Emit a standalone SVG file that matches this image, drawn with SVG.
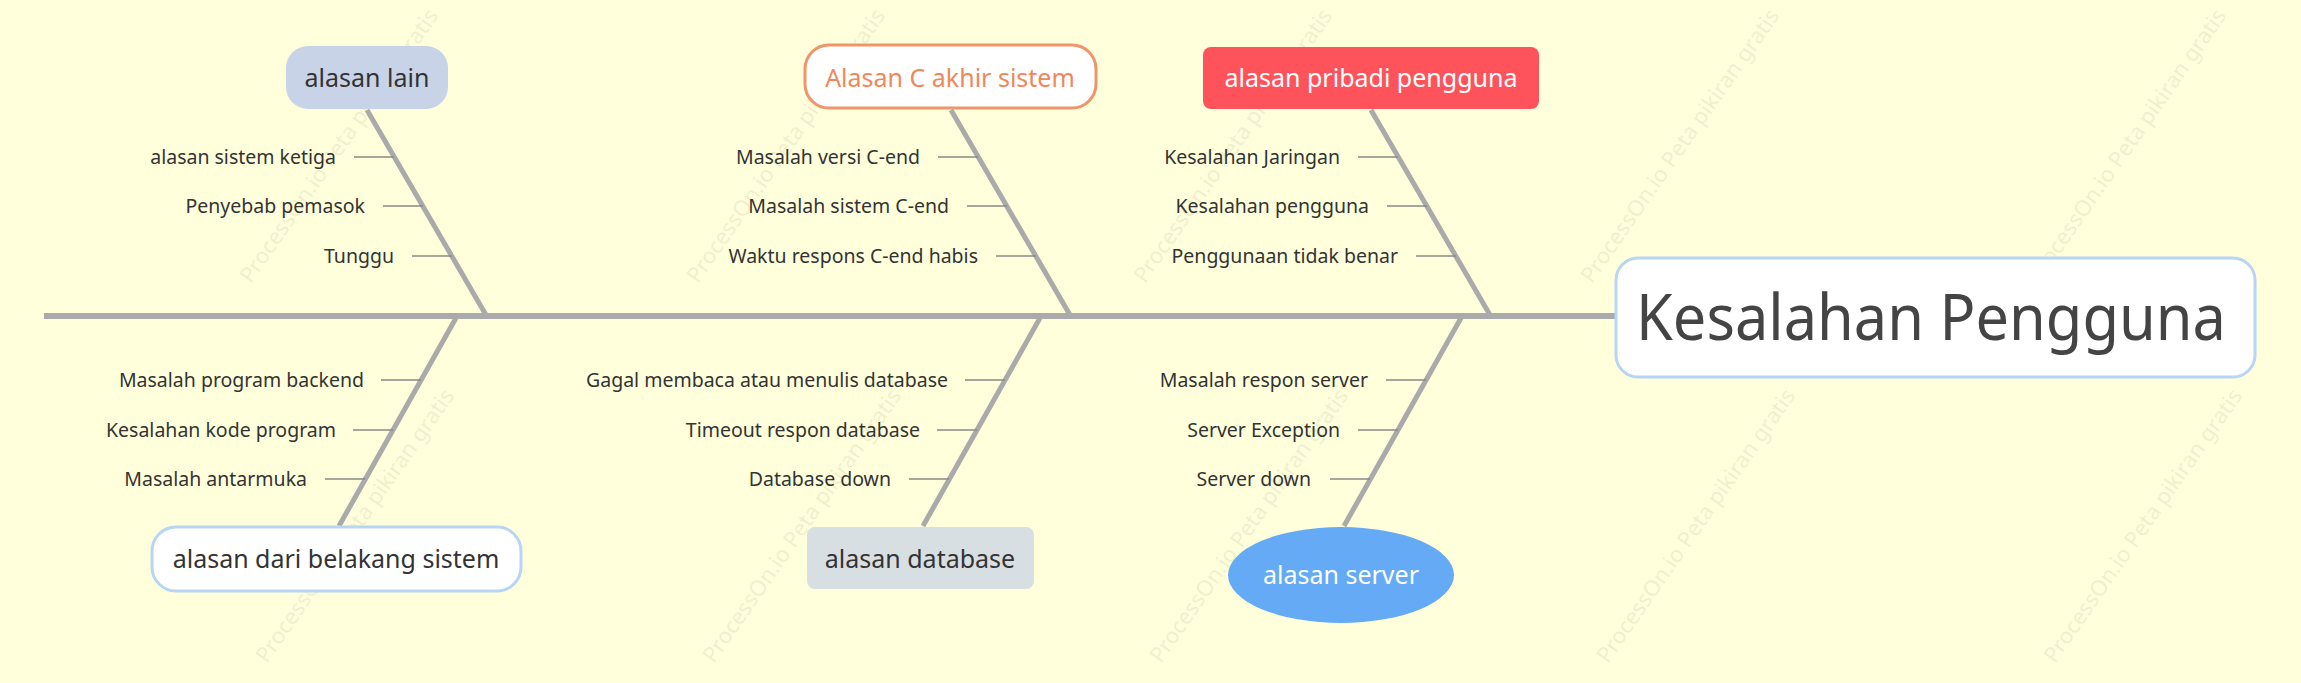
<svg xmlns="http://www.w3.org/2000/svg" width="2301" height="683" viewBox="0 0 2301 683">
<style>
.wm{font-family:"Noto Sans",sans-serif;font-size:22px;fill:#000;opacity:0.06}
.t{font-family:"Noto Sans","Open Sans",sans-serif;font-size:19.5px;fill:#333;text-anchor:end}
.n{font-family:"Noto Sans","Open Sans",sans-serif;font-size:25px;text-anchor:middle}
.big{font-size:64px}
.bone{stroke:#aaaaaa;stroke-width:5;fill:none}
.tick{stroke:#888;stroke-width:1.5}
</style>
<rect width="2301" height="683" fill="#ffffdc"/>
<g id="watermarks">
<text class="wm" transform="translate(345,150) rotate(-55)" text-anchor="middle">ProcessOn.io Peta pikiran gratis</text>
<text class="wm" transform="translate(792,150) rotate(-55)" text-anchor="middle">ProcessOn.io Peta pikiran gratis</text>
<text class="wm" transform="translate(1239,150) rotate(-55)" text-anchor="middle">ProcessOn.io Peta pikiran gratis</text>
<text class="wm" transform="translate(1686,150) rotate(-55)" text-anchor="middle">ProcessOn.io Peta pikiran gratis</text>
<text class="wm" transform="translate(2133,150) rotate(-55)" text-anchor="middle">ProcessOn.io Peta pikiran gratis</text>
<text class="wm" transform="translate(361,530) rotate(-55)" text-anchor="middle">ProcessOn.io Peta pikiran gratis</text>
<text class="wm" transform="translate(808,530) rotate(-55)" text-anchor="middle">ProcessOn.io Peta pikiran gratis</text>
<text class="wm" transform="translate(1255,530) rotate(-55)" text-anchor="middle">ProcessOn.io Peta pikiran gratis</text>
<text class="wm" transform="translate(1702,530) rotate(-55)" text-anchor="middle">ProcessOn.io Peta pikiran gratis</text>
<text class="wm" transform="translate(2149,530) rotate(-55)" text-anchor="middle">ProcessOn.io Peta pikiran gratis</text>
</g>
<g id="connectors">
<line x1="44" y1="316" x2="1616" y2="316" stroke="#aaaaaa" stroke-width="6"/>
<line class="bone" x1="367" y1="110" x2="486" y2="315"/>
<line class="bone" x1="951" y1="110" x2="1070" y2="315"/>
<line class="bone" x1="1371" y1="110" x2="1490" y2="315"/>
<line class="bone" x1="456" y1="318" x2="339" y2="526"/>
<line class="bone" x1="1040" y1="318" x2="923" y2="526"/>
<line class="bone" x1="1461" y1="318" x2="1344" y2="526"/>
<g class="tick">
<line x1="354" y1="157" x2="394" y2="157"/><line x1="383" y1="206" x2="423" y2="206"/><line x1="412" y1="256" x2="452" y2="256"/>
<line x1="938" y1="157" x2="978" y2="157"/><line x1="967" y1="206" x2="1007" y2="206"/><line x1="996" y1="256" x2="1036" y2="256"/>
<line x1="1358" y1="157" x2="1398" y2="157"/><line x1="1387" y1="206" x2="1427" y2="206"/><line x1="1416" y1="256" x2="1456" y2="256"/>
<line x1="381" y1="380" x2="421" y2="380"/><line x1="353" y1="430" x2="393" y2="430"/><line x1="325" y1="479" x2="365" y2="479"/>
<line x1="965" y1="380" x2="1005" y2="380"/><line x1="937" y1="430" x2="977" y2="430"/><line x1="909" y1="479" x2="949" y2="479"/>
<line x1="1386" y1="380" x2="1426" y2="380"/><line x1="1358" y1="430" x2="1398" y2="430"/><line x1="1330" y1="479" x2="1370" y2="479"/>
</g>
</g>
<g id="labels">
<text class="t" x="336" y="164">alasan sistem ketiga</text>
<text class="t" x="365" y="213">Penyebab pemasok</text>
<text class="t" x="394" y="263">Tunggu</text>
<text class="t" x="920" y="164">Masalah versi C-end</text>
<text class="t" x="949" y="213">Masalah sistem C-end</text>
<text class="t" x="978" y="263">Waktu respons C-end habis</text>
<text class="t" x="1340" y="164">Kesalahan Jaringan</text>
<text class="t" x="1369" y="213">Kesalahan pengguna</text>
<text class="t" x="1398" y="263">Penggunaan tidak benar</text>
<text class="t" x="364" y="387">Masalah program backend</text>
<text class="t" x="336" y="437">Kesalahan kode program</text>
<text class="t" x="307" y="486">Masalah antarmuka</text>
<text class="t" x="948" y="387">Gagal membaca atau menulis database</text>
<text class="t" x="920" y="437">Timeout respon database</text>
<text class="t" x="891" y="486">Database down</text>
<text class="t" x="1368" y="387">Masalah respon server</text>
<text class="t" x="1340" y="437">Server Exception</text>
<text class="t" x="1311" y="486">Server down</text>
</g>
<g id="center">
<rect x="1616" y="258" width="639" height="119" rx="22" fill="#fff" stroke="#b7d5f5" stroke-width="3"/>
<text class="n big" x="1931" y="340" fill="#444" textLength="590" lengthAdjust="spacingAndGlyphs">Kesalahan Pengguna</text>
</g>
<g id="alasan-lain">
<rect x="286" y="46" width="162" height="63" rx="22" fill="#c8d3e8"/>
<text class="n" x="367" y="87" fill="#333">alasan lain</text>
</g>
<g id="alasan-c-akhir">
<rect x="805" y="45" width="291" height="63" rx="24" fill="#fff" stroke="#f0956a" stroke-width="3"/>
<text class="n" x="950" y="87" fill="#f0875a">Alasan C akhir sistem</text>
</g>
<g id="alasan-pribadi">
<rect x="1203" y="47" width="336" height="62" rx="8" fill="#ff535c"/>
<text class="n" x="1371" y="87" fill="#fff">alasan pribadi pengguna</text>
</g>
<g id="alasan-belakang">
<rect x="152" y="527" width="369" height="64" rx="24" fill="#fff" stroke="#b7d5f5" stroke-width="3"/>
<text class="n" x="336" y="568" fill="#333">alasan dari belakang sistem</text>
</g>
<g id="alasan-database">
<rect x="807" y="527" width="227" height="62" rx="8" fill="#d8dfe2"/>
<text class="n" x="920" y="568" fill="#333">alasan database</text>
</g>
<g id="alasan-server">
<ellipse cx="1341" cy="575" rx="113" ry="48" fill="#64aaf5"/>
<text class="n" x="1341" y="584" fill="#fff">alasan server</text>
</g>
</svg>
